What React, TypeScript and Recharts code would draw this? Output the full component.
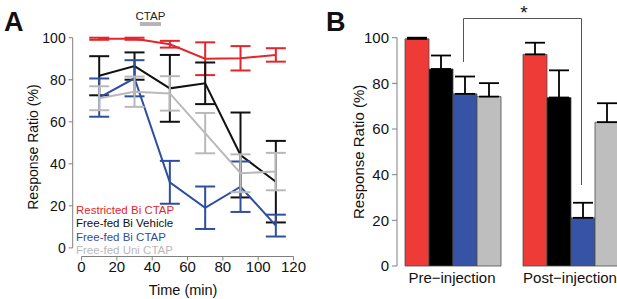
import {
  LineChart,
  Line,
  BarChart,
  Bar,
  XAxis,
  YAxis,
  ErrorBar,
  ReferenceLine,
  Legend,
} from 'recharts'

// Panel A: response ratio over time
const TIME = [10, 30, 50, 70, 90, 110]
const RESTRICTED_BI_CTAP = [99.5, 99.5, 96.9, 90.0, 90.2, 91.8]
const RESTRICTED_BI_CTAP_ERR = [0.5, 0.5, 1.6, 7.8, 5.8, 3.2]
const FREE_BI_VEHICLE = [81.9, 86.5, 75.9, 78.3, 44.2, 31.5]
const FREE_BI_VEHICLE_ERR = [9.3, 6.5, 15.9, 9.9, 20.2, 19.4]
const FREE_BI_CTAP = [71.5, 80.7, 31.2, 19.1, 29.1, 10.6]
const FREE_BI_CTAP_ERR = [9.1, 8.6, 10.2, 10.1, 12.0, 5.2]
const FREE_UNI_CTAP = [71.2, 74.3, 73.5, 54.6, 35.5, 36.3]
const FREE_UNI_CTAP_ERR = [5.7, 7.2, 8.2, 9.6, 9.0, 8.9]
const TIME_TICKS = [0, 20, 40, 60, 80, 100, 120]
const RATIO_TICKS = [0, 20, 40, 60, 80, 100]
const CTAP_WINDOW = [33, 45]

// Panel B: pre vs post injection
const PHASES = ['Pre\u2212injection', 'Post\u2212injection']
const BAR_RESTRICTED = [99.5, 92.7]
const BAR_RESTRICTED_ERR = [0.5, 5.1]
const BAR_VEHICLE = [86.3, 73.8]
const BAR_VEHICLE_ERR = [5.9, 11.9]
const BAR_BI_CTAP = [75.4, 21.1]
const BAR_BI_CTAP_ERR = [7.6, 6.6]
const BAR_UNI_CTAP = [74.2, 63.0]
const BAR_UNI_CTAP_ERR = [5.9, 8.3]

const RED = '#e4262b'
const BLACK = '#111111'
const BLUE = '#2e4f9f'
const GRAY = '#b9b9b9'
const AXIS = '#808080'

const SERIES = [
  { key: 'restricted', name: 'Restricted Bi CTAP', color: RED },
  { key: 'vehicle', name: 'Free-fed Bi Vehicle', color: BLACK },
  { key: 'biCtap', name: 'Free-fed Bi CTAP', color: BLUE },
  { key: 'uniCtap', name: 'Free-fed Uni CTAP', color: GRAY },
]

const lineData = TIME.map((t, i) => ({
  time: t,
  restricted: RESTRICTED_BI_CTAP[i],
  restrictedErr: RESTRICTED_BI_CTAP_ERR[i],
  vehicle: FREE_BI_VEHICLE[i],
  vehicleErr: FREE_BI_VEHICLE_ERR[i],
  biCtap: FREE_BI_CTAP[i],
  biCtapErr: FREE_BI_CTAP_ERR[i],
  uniCtap: FREE_UNI_CTAP[i],
  uniCtapErr: FREE_UNI_CTAP_ERR[i],
}))

const barData = PHASES.map((p, i) => ({
  phase: p,
  restricted: BAR_RESTRICTED[i],
  restrictedErr: [0, BAR_RESTRICTED_ERR[i]],
  vehicle: BAR_VEHICLE[i],
  vehicleErr: [0, BAR_VEHICLE_ERR[i]],
  biCtap: BAR_BI_CTAP[i],
  biCtapErr: [0, BAR_BI_CTAP_ERR[i]],
  uniCtap: BAR_UNI_CTAP[i],
  uniCtapErr: [0, BAR_UNI_CTAP_ERR[i]],
}))

const BAR_COLORS: Record<string, string> = {
  restricted: '#ee3b38',
  vehicle: '#000000',
  biCtap: '#3653a5',
  uniCtap: '#bebebe',
}

// legend keeps the figure's order, not recharts' alphabetical one
function LegendText({ payload }: any) {
  const items = [...(payload ?? [])].sort(
    (a: any, b: any) =>
      SERIES.findIndex((s) => s.name === a.value) - SERIES.findIndex((s) => s.name === b.value)
  )
  return (
    <div style={{ fontSize: 11.5, lineHeight: '13.3px' }}>
      {items.map((it: any) => (
        <div key={it.value} style={{ color: it.color }}>
          {it.value}
        </div>
      ))}
    </div>
  )
}

export default function App() {
  return (
    <div
      style={{
        position: 'absolute',
        left: 0,
        top: 0,
        width: 617,
        height: 299,
        background: '#fff',
        overflow: 'hidden',
        fontFamily: '"Liberation Sans", Arial, sans-serif',
        color: '#111',
      }}
    >
      <div style={{ position: 'absolute', left: 4, top: 9, fontSize: 27, lineHeight: '27px', fontWeight: 700 }}>A</div>
      <div style={{ position: 'absolute', left: 326, top: 9, fontSize: 27, lineHeight: '27px', fontWeight: 700 }}>B</div>

      {/* Panel A */}
      <div style={{ position: 'absolute', left: 0, top: 0 }}>
        <LineChart width={310} height={299} data={lineData} margin={{ top: 37.7, right: 16.5, left: 32.7, bottom: 4.5 }}>
          <XAxis
            type="number"
            dataKey="time"
            domain={[-5, 120]}
            ticks={TIME_TICKS}
            axisLine={false}
            tickLine={{ stroke: AXIS }}
            tickSize={4}
            tickMargin={1}
            height={38}
            tick={{ fontSize: 15, fill: '#111' }}
            label={{ value: 'Time (min)', position: 'insideBottom', offset: 0, fontSize: 14.5, fill: '#111' }}
          />
          <YAxis
            type="number"
            domain={[-4.1, 100]}
            ticks={RATIO_TICKS}
            axisLine={false}
            tickLine={{ stroke: AXIS }}
            tickSize={4}
            tickMargin={3}
            width={40}
            tick={{ fontSize: 14, fill: '#111' }}
            label={{
              value: 'Response Ratio (%)',
              angle: -90,
              position: 'insideLeft',
              offset: 0,
              fontSize: 14,
              fill: '#111',
              style: { textAnchor: 'middle' },
            }}
          />
          <ReferenceLine segment={[{ x: 0, y: -4.1 }, { x: 120, y: -4.1 }]} stroke={AXIS} ifOverflow="visible" />
          <ReferenceLine segment={[{ x: -5, y: 0 }, { x: -5, y: 100 }]} stroke={AXIS} ifOverflow="visible" />
          <ReferenceLine
            segment={[{ x: CTAP_WINDOW[0], y: 106.5 }, { x: CTAP_WINDOW[1], y: 106.5 }]}
            stroke="#b5b5b5"
            strokeWidth={4}
            ifOverflow="visible"
            label={{ value: 'CTAP', position: 'top', offset: 4, fontSize: 11.5, fill: '#222' }}
          />
          <Legend
            layout="horizontal"
            verticalAlign="middle"
            content={LegendText}
            wrapperStyle={{ position: 'absolute', left: 76, top: 204, width: 'auto' }}
          />
          {SERIES.map((s) => (
            <Line
              key={s.key}
              type="linear"
              dataKey={s.key}
              name={s.name}
              stroke={s.color}
              strokeWidth={2}
              dot={false}
              isAnimationActive={false}
            >
              <ErrorBar dataKey={`${s.key}Err`} direction="y" width={10} strokeWidth={2} stroke={s.color} />
            </Line>
          ))}
        </LineChart>
      </div>

      {/* Panel B */}
      <div style={{ position: 'absolute', left: 330, top: 0 }}>
        <BarChart
          width={287}
          height={299}
          data={barData}
          margin={{ top: 37.7, right: 0, left: 22, bottom: 3 }}
          barGap={0}
          barCategoryGap={12}
        >
          <XAxis
            dataKey="phase"
            axisLine={false}
            tickLine={false}
            tickSize={0}
            tickMargin={6}
            height={30}
            padding={{ left: -4, right: -12 }}
            tick={{ fontSize: 15, fill: '#111' }}
          />
          <YAxis
            type="number"
            domain={[0, 100]}
            ticks={RATIO_TICKS}
            axisLine={{ stroke: AXIS }}
            tickLine={{ stroke: AXIS }}
            tickSize={5}
            tickMargin={3}
            width={45}
            tick={{ fontSize: 15, fill: '#111' }}
            label={{
              value: 'Response Ratio (%)',
              angle: -90,
              position: 'insideLeft',
              offset: 7,
              fontSize: 15,
              fill: '#111',
              style: { textAnchor: 'middle' },
            }}
          />
          {SERIES.map((s) => (
            <Bar
              key={s.key}
              dataKey={s.key}
              name={s.name}
              fill={BAR_COLORS[s.key]}
              stroke="#4d4d4d"
              strokeWidth={0.8}
              isAnimationActive={false}
            >
              <ErrorBar dataKey={`${s.key}Err`} direction="y" width={10} strokeWidth={1.8} stroke="#000" />
            </Bar>
          ))}
        </BarChart>
      </div>

      {/* significance bracket */}
      <svg width={617} height={299} style={{ position: 'absolute', left: 0, top: 0, pointerEvents: 'none' }}>
        <path d="M463.5 62 V18.5 H581.5 V185" fill="none" stroke="#555" strokeWidth={1} />
        <text x={524} y={19} textAnchor="middle" fontSize={19} fill="#111">*</text>
      </svg>
    </div>
  )
}
